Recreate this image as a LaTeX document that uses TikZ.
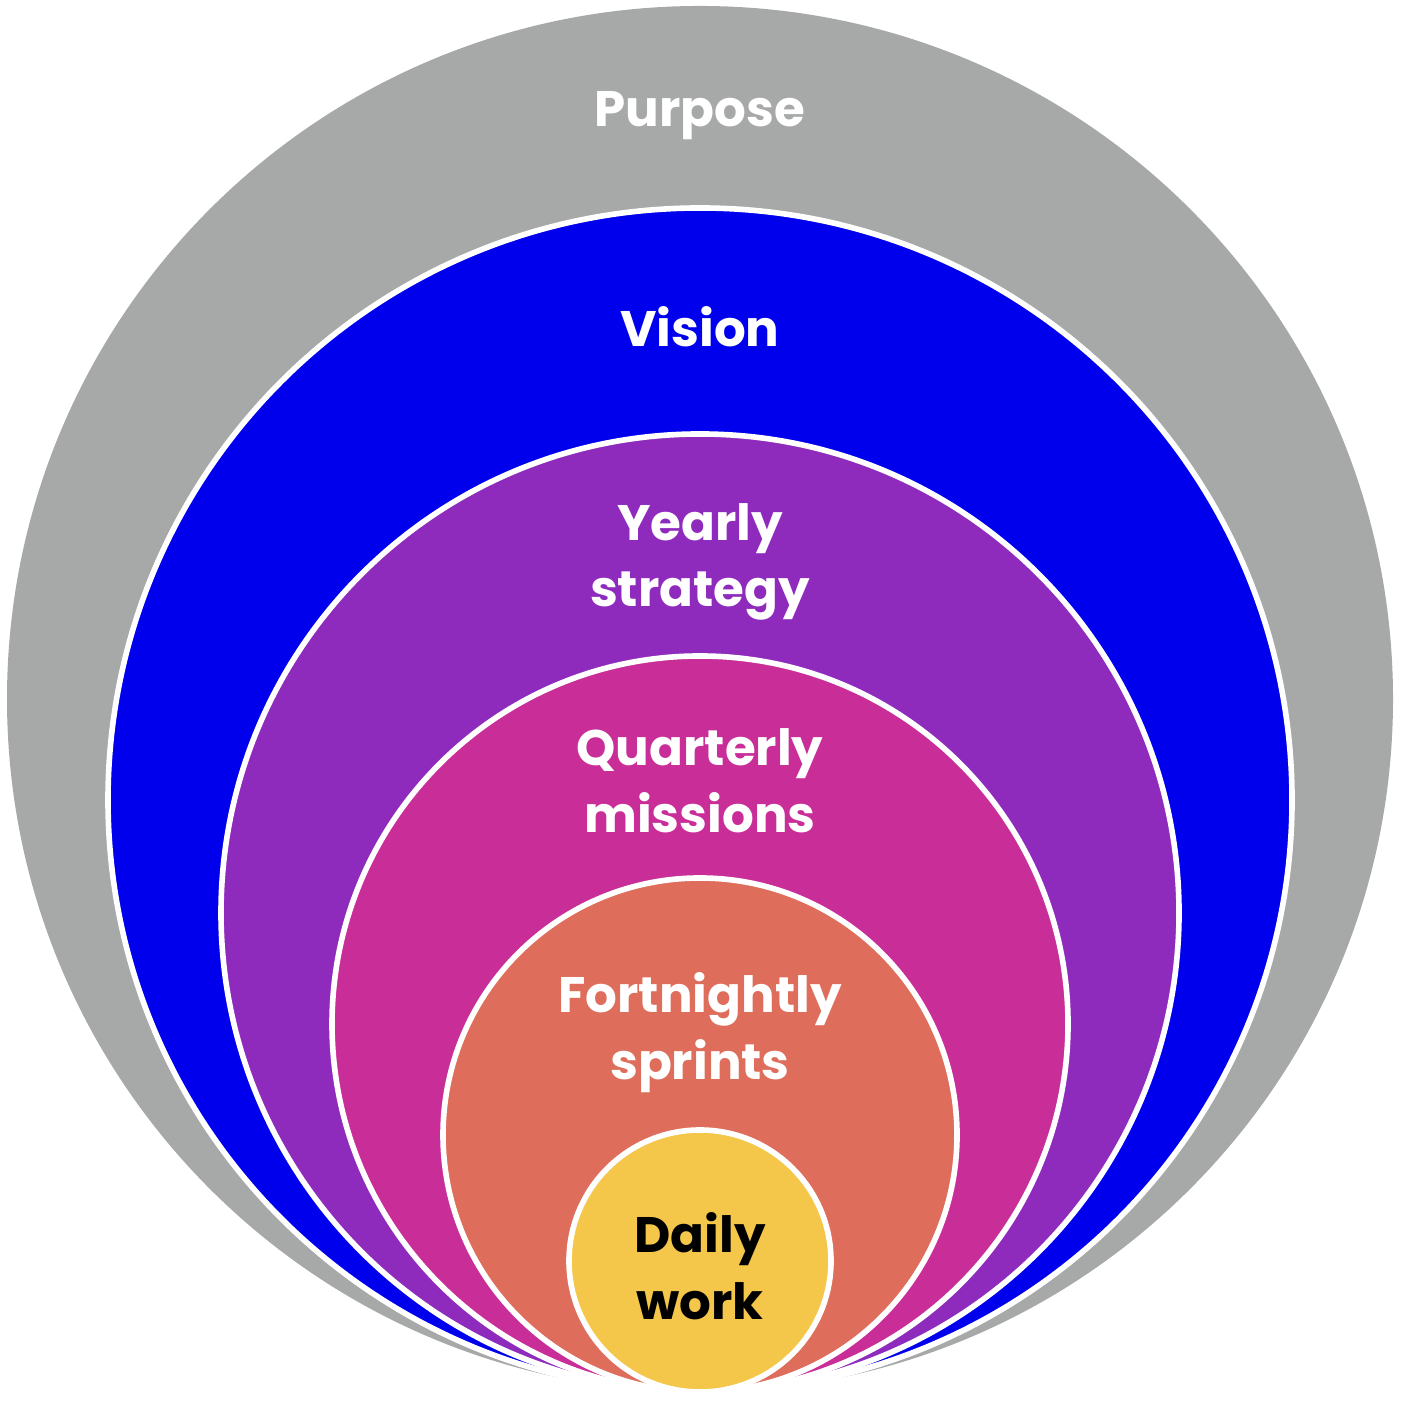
\documentclass[tikz,border=0pt]{standalone}
\usepackage{fontspec}
\setmainfont{Poppins}
\usepackage{tikz}
\usetikzlibrary{positioning}

\definecolor{purposegrey}{HTML}{A7A8A8}
\definecolor{visionblue}{HTML}{0000EC}
\definecolor{yearlypurple}{HTML}{8E2BBD}
\definecolor{quarterlypink}{HTML}{C92D98}
\definecolor{sprintorange}{HTML}{DE6D5B}
\definecolor{dailyyellow}{HTML}{F4C74B}

\begin{document}
\begin{tikzpicture}[
    ring/.style={circle, draw=white, line width=1.6pt, inner sep=0pt},
    lbl/.style={align=center, inner sep=0pt, text=white,
        font=\fontsize{14.2}{19}\selectfont\bfseries}
]
\useasboundingbox (0,0) rectangle (14,14.04);

\node[ring, draw=none, fill=purposegrey, minimum size=13.86cm] (purpose) at (7,7.05) {};
\node[ring, fill=visionblue, minimum size=11.84cm] (vision) at (7,6.04) {};
\node[ring, fill=yearlypurple, minimum size=9.58cm] (yearly) at (7,4.91) {};
\node[ring, fill=quarterlypink, minimum size=7.36cm] (quarterly) at (7,3.80) {};
\node[ring, fill=sprintorange, minimum size=5.14cm] (sprints) at (7,2.69) {};
\node[ring, fill=dailyyellow, minimum size=2.62cm] (daily) at (7,1.43) {};

\node[lbl] (purposetext) at (7,12.88) {Purpose};
\node[lbl] (visiontext) at (7,10.77) {Vision};
\node[lbl] (yearlytext) at (7,8.42) {Yearly\\strategy};
\node[lbl] (quarterlytext) at (7,6.23) {Quarterly\\missions};
\node[lbl] (sprintstext) at (7,3.71) {Fortnightly\\sprints};
\node[lbl, text=black] (dailytext) at (7,1.38) {Daily\\work};

\end{tikzpicture}
\end{document}
